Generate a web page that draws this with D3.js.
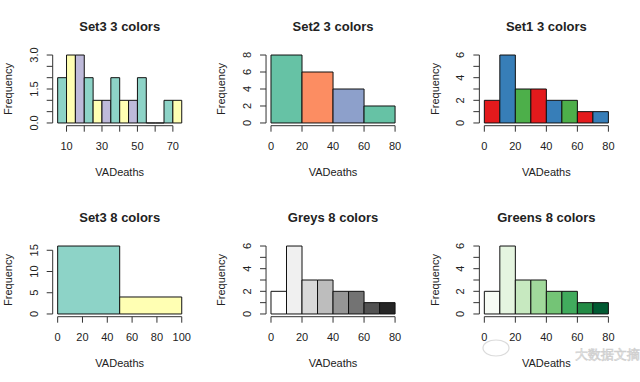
<!DOCTYPE html>
<html><head><meta charset="utf-8">
<script src="https://cdn.jsdelivr.net/npm/d3@7"></script>
<style>body{margin:0;background:#fff}svg{display:block}text{font-family:"Liberation Sans",Arial,sans-serif;fill:#222}</style>
</head><body><svg id="c" width="640" height="382"></svg>
<script>
// ---- data ----
const titles = ["Set3 3 colors","Set2 3 colors","Set1 3 colors","Set3 8 colors","Greys 8 colors","Greens 8 colors"];
const breaks1 = [5,10,15,20,25,30,35,40,45,50,55,60,65,70,75];
const counts1 = [2,3,3,2,1,1,2,1,1,2,0,0,1,1];
const breaks2 = [0,20,40,60,80];
const counts2 = [8,6,4,2];
const breaks3 = [0,10,20,30,40,50,60,70,80];
const counts3 = [2,6,3,3,2,2,1,1];
const breaks4 = [0,50,100];
const counts4 = [16,4];
const xTicks1 = [10,20,30,40,50,60,70];
const xLabels1 = ["10","","30","","50","","70"];
const yTicks1 = [0,0.5,1,1.5,2,2.5,3];
const yLabels1 = ["0.0","","","1.5","","","3.0"];
const xTicks80 = [0,20,40,60,80];
const xTicks100 = [0,20,40,60,80,100];
const yTicks2 = [0,2,4,6,8];
const yTicks6 = [0,1,2,3,4,5,6];
const yLabels6 = ["0","","2","","4","","6"];
const yTicks4 = [0,5,10,15];
const palSet3 = ["#8DD3C7","#FFFFB3","#BEBADA"];
const palSet2 = ["#66C2A5","#FC8D62","#8DA0CB"];
const palSet1 = ["#E41A1C","#377EB8","#4DAF4A"];
const palSet3_8 = ["#8DD3C7","#FFFFB3","#BEBADA","#FB8072","#80B1D3","#FDB462","#B3DE69","#FCCDE5"];
const palGreys = ["#FFFFFF","#F0F0F0","#D9D9D9","#BDBDBD","#969696","#737373","#525252","#252525"];
const palGreens = ["#F7FCF5","#E5F5E0","#C7E9C0","#A1D99B","#74C476","#41AB5D","#238B45","#005A32"];

const panels = [
  {breaks:breaks1,counts:counts1,pal:palSet3,xt:xTicks1,xl:xLabels1,yt:yTicks1,yl:yLabels1},
  {breaks:breaks2,counts:counts2,pal:palSet2,xt:xTicks80,xl:null,yt:yTicks2,yl:null},
  {breaks:breaks3,counts:counts3,pal:palSet1,xt:xTicks80,xl:null,yt:yTicks6,yl:yLabels6},
  {breaks:breaks4,counts:counts4,pal:palSet3_8,xt:xTicks100,xl:null,yt:yTicks4,yl:null},
  {breaks:breaks3,counts:counts3,pal:palGreys,xt:xTicks80,xl:null,yt:yTicks6,yl:yLabels6},
  {breaks:breaks3,counts:counts3,pal:palGreens,xt:xTicks80,xl:null,yt:yTicks6,yl:yLabels6}
];

const svg = d3.select("#c");
const PW = 640/3, PH = 191;
const axisCol = "#333";

panels.forEach((p,i)=>{
  const ox = (i%3)*PW, oy = Math.floor(i/3)*PH;
  const g = svg.append("g").attr("transform",`translate(${ox},${oy})`);
  const x0 = p.breaks[0], x1 = p.breaks[p.breaks.length-1];
  const xr = x1-x0;
  const ymax = d3.max(p.counts);
  const L=52.7, R=186.7, T=52.3, B=125.7;
  const x = d3.scaleLinear().domain([x0-0.04*xr, x1+0.04*xr]).range([L,R]);
  const y = d3.scaleLinear().domain([-0.04*ymax, ymax*1.04]).range([B,T]);

  g.selectAll("path.bar").data(p.counts).join("path").attr("class","bar")
    .attr("d",(d,j)=>{
      const a=x(p.breaks[j]), b=x(p.breaks[j+1]), y0=y(0), y1=y(d);
      return `M${a},${y0}H${b}V${y1}H${a}Z`;
    })
    .attr("fill",(d,j)=>p.pal[j%p.pal.length]).attr("stroke","#111").attr("stroke-width",1);

  // x axis
  const xa = g.append("g").attr("transform",`translate(0,${B})`);
  xa.append("line").attr("x1",x(p.xt[0])).attr("x2",x(p.xt[p.xt.length-1])).attr("stroke",axisCol);
  xa.selectAll("line.t").data(p.xt).join("line").attr("class","t")
    .attr("x1",d=>x(d)).attr("x2",d=>x(d)).attr("y1",0).attr("y2",6).attr("stroke",axisCol);
  xa.selectAll("text").data(p.xt).join("text")
    .attr("x",d=>x(d)).attr("y",24).attr("text-anchor","middle").attr("font-size",11)
    .text((d,j)=>p.xl?p.xl[j]:String(d));

  // y axis
  const ya = g.append("g").attr("transform",`translate(${L},0)`);
  ya.append("line").attr("y1",y(p.yt[0])).attr("y2",y(p.yt[p.yt.length-1])).attr("stroke",axisCol);
  ya.selectAll("line.t").data(p.yt).join("line").attr("class","t")
    .attr("y1",d=>y(d)).attr("y2",d=>y(d)).attr("x1",0).attr("x2",-6).attr("stroke",axisCol);
  ya.selectAll("text").data(p.yt).join("text")
    .attr("transform",d=>`translate(-15,${y(d)}) rotate(-90)`).attr("text-anchor","middle").attr("font-size",11)
    .text((d,j)=>p.yl?p.yl[j]:String(d));

  g.append("text").attr("x",(L+R)/2).attr("y",31).attr("text-anchor","middle")
    .attr("font-size",13).attr("font-weight","bold").text(titles[i]);
  g.append("text").attr("x",(L+R)/2).attr("y",176).attr("text-anchor","middle")
    .attr("font-size",11).text("VADeaths");
  g.append("text").attr("transform",`translate(12,${(T+B)/2}) rotate(-90)`).attr("text-anchor","middle")
    .attr("font-size",11).text("Frequency");
});

// watermark (logo bubble + text)
const wm = svg.append("g").attr("opacity",0.55);
wm.append("ellipse").attr("cx",496).attr("cy",348).attr("rx",13).attr("ry",8)
  .attr("fill","none").attr("stroke","#bbb").attr("stroke-width",1.2);
wm.append("text").attr("x",575).attr("y",359).attr("font-size",12.5)
  .attr("font-family","Noto Sans CJK SC").style("fill","none").attr("stroke","#aaa").attr("stroke-width",0.7)
  .text("大数据文摘");
</script></body></html>
